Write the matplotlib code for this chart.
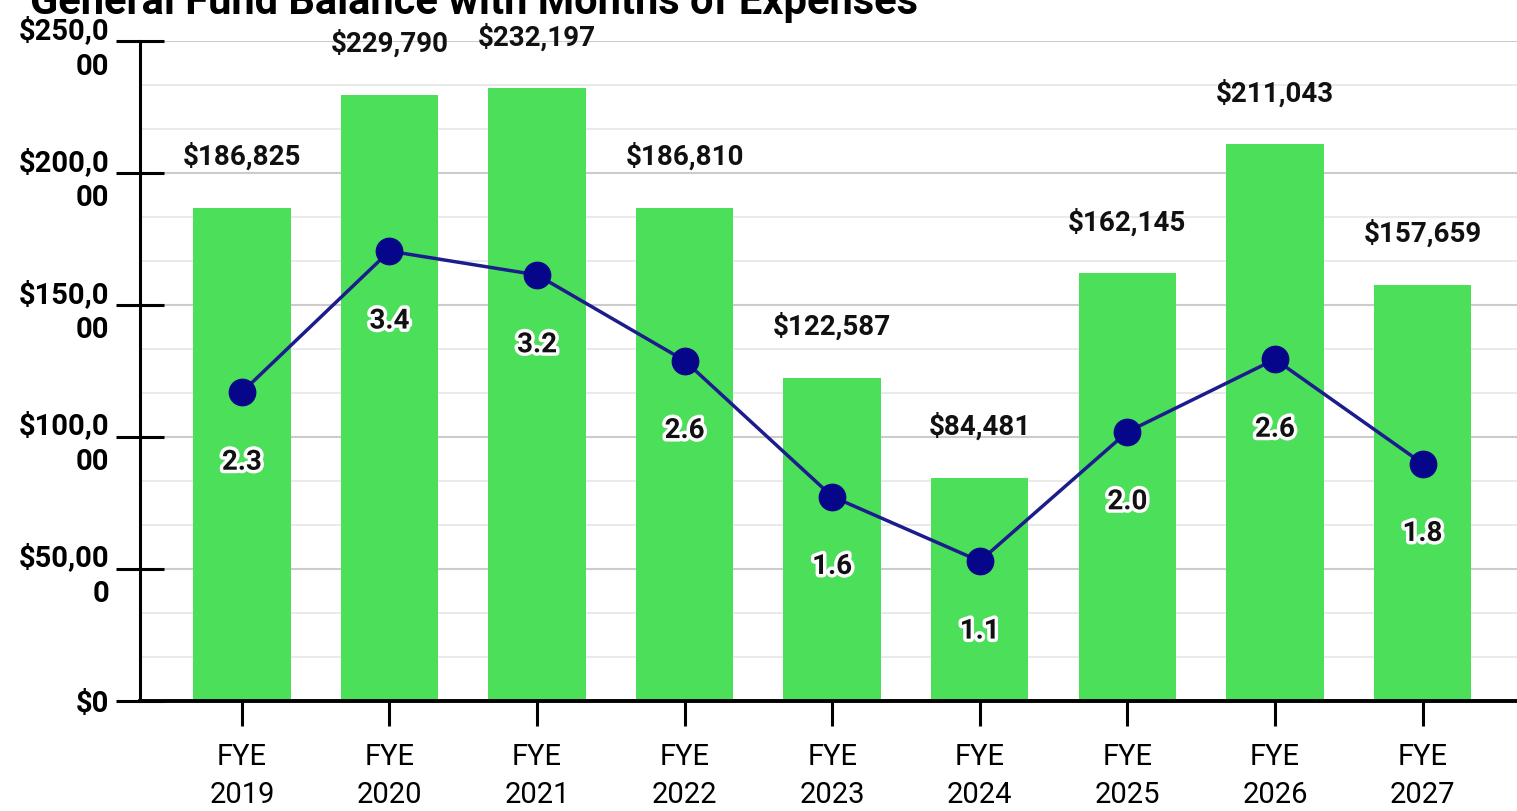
import matplotlib.pyplot as plt
import matplotlib.patheffects as pe
from matplotlib.ticker import MultipleLocator

plt.rcParams['font.family'] = ['Roboto', 'DejaVu Sans']

# data
years = ["FYE\n2019", "FYE\n2020", "FYE\n2021", "FYE\n2022", "FYE\n2023",
         "FYE\n2024", "FYE\n2025", "FYE\n2026", "FYE\n2027"]
balance = [186825, 229790, 232197, 186810, 122587, 84481, 162145, 211043, 157659]
months = [2.34, 3.41, 3.23, 2.58, 1.55, 1.06, 2.04, 2.59, 1.80]
ytick_labels = ["$0", "$50,00\n0", "$100,0\n00", "$150,0\n00", "$200,0\n00", "$250,0\n00"]

fig = plt.figure(figsize=(15.17, 8.11), dpi=100)
ax = fig.add_axes([0.0923, 0.1356, 0.9077, 0.8134])
x = range(len(years))

ax.bar(x, balance, width=0.66, color="#4cdf5a", zorder=2)
for i, v in enumerate(balance):
    ax.text(i, v + 14000, f"${v:,}", ha="center", va="bottom",
            fontsize=20, fontweight="bold", color="#111111")

ax.set_ylim(0, 250000)
ax.set_xlim(-0.69, 8.64)
ax.set_yticks(range(0, 250001, 50000))
ax.set_yticklabels(ytick_labels, fontsize=21, fontweight="bold", ha="right",
                   linespacing=1.35)
ax.yaxis.set_minor_locator(MultipleLocator(50000 / 3))
ax.set_xticks(list(x))
ax.set_xticklabels(years, fontsize=21, linespacing=1.45)
ax.grid(axis="y", which="major", color="#cccccc", lw=1.5, zorder=0)
ax.grid(axis="y", which="minor", color="#e6e6e6", lw=1.2, zorder=0)
ax.tick_params(axis="y", which="major", direction="inout", length=34, width=2.2, pad=5)
ax.tick_params(axis="y", which="minor", length=0)
ax.tick_params(axis="x", direction="inout", length=36, width=2.2, pad=12)
for s in ["top", "right"]:
    ax.spines[s].set_visible(False)
ax.spines["left"].set_linewidth(2.2)
ax.spines["bottom"].set_linewidth(2.8)
ax.spines["bottom"].set_zorder(3)

ax2 = ax.twinx()
ax2.set_ylim(0, 5)
ax2.axis("off")
ax2.plot(list(x), months, color="#1c1c8c", lw=2.5, marker="o", markersize=19,
         markerfacecolor="#06068a", markeredgecolor="#06068a", zorder=4)
for i, m in enumerate(months):
    ax2.text(i, m - 0.53, f"{m:.1f}", ha="center", va="center", fontsize=20,
             fontweight="bold", color="#111111",
             path_effects=[pe.withStroke(linewidth=5, foreground="white")])

fig.text(0.02, 0.997, "General Fund Balance with Months of Expenses",
         fontsize=30, fontweight="bold", va="center", ha="left")

fig.savefig("out.png", dpi=100)
